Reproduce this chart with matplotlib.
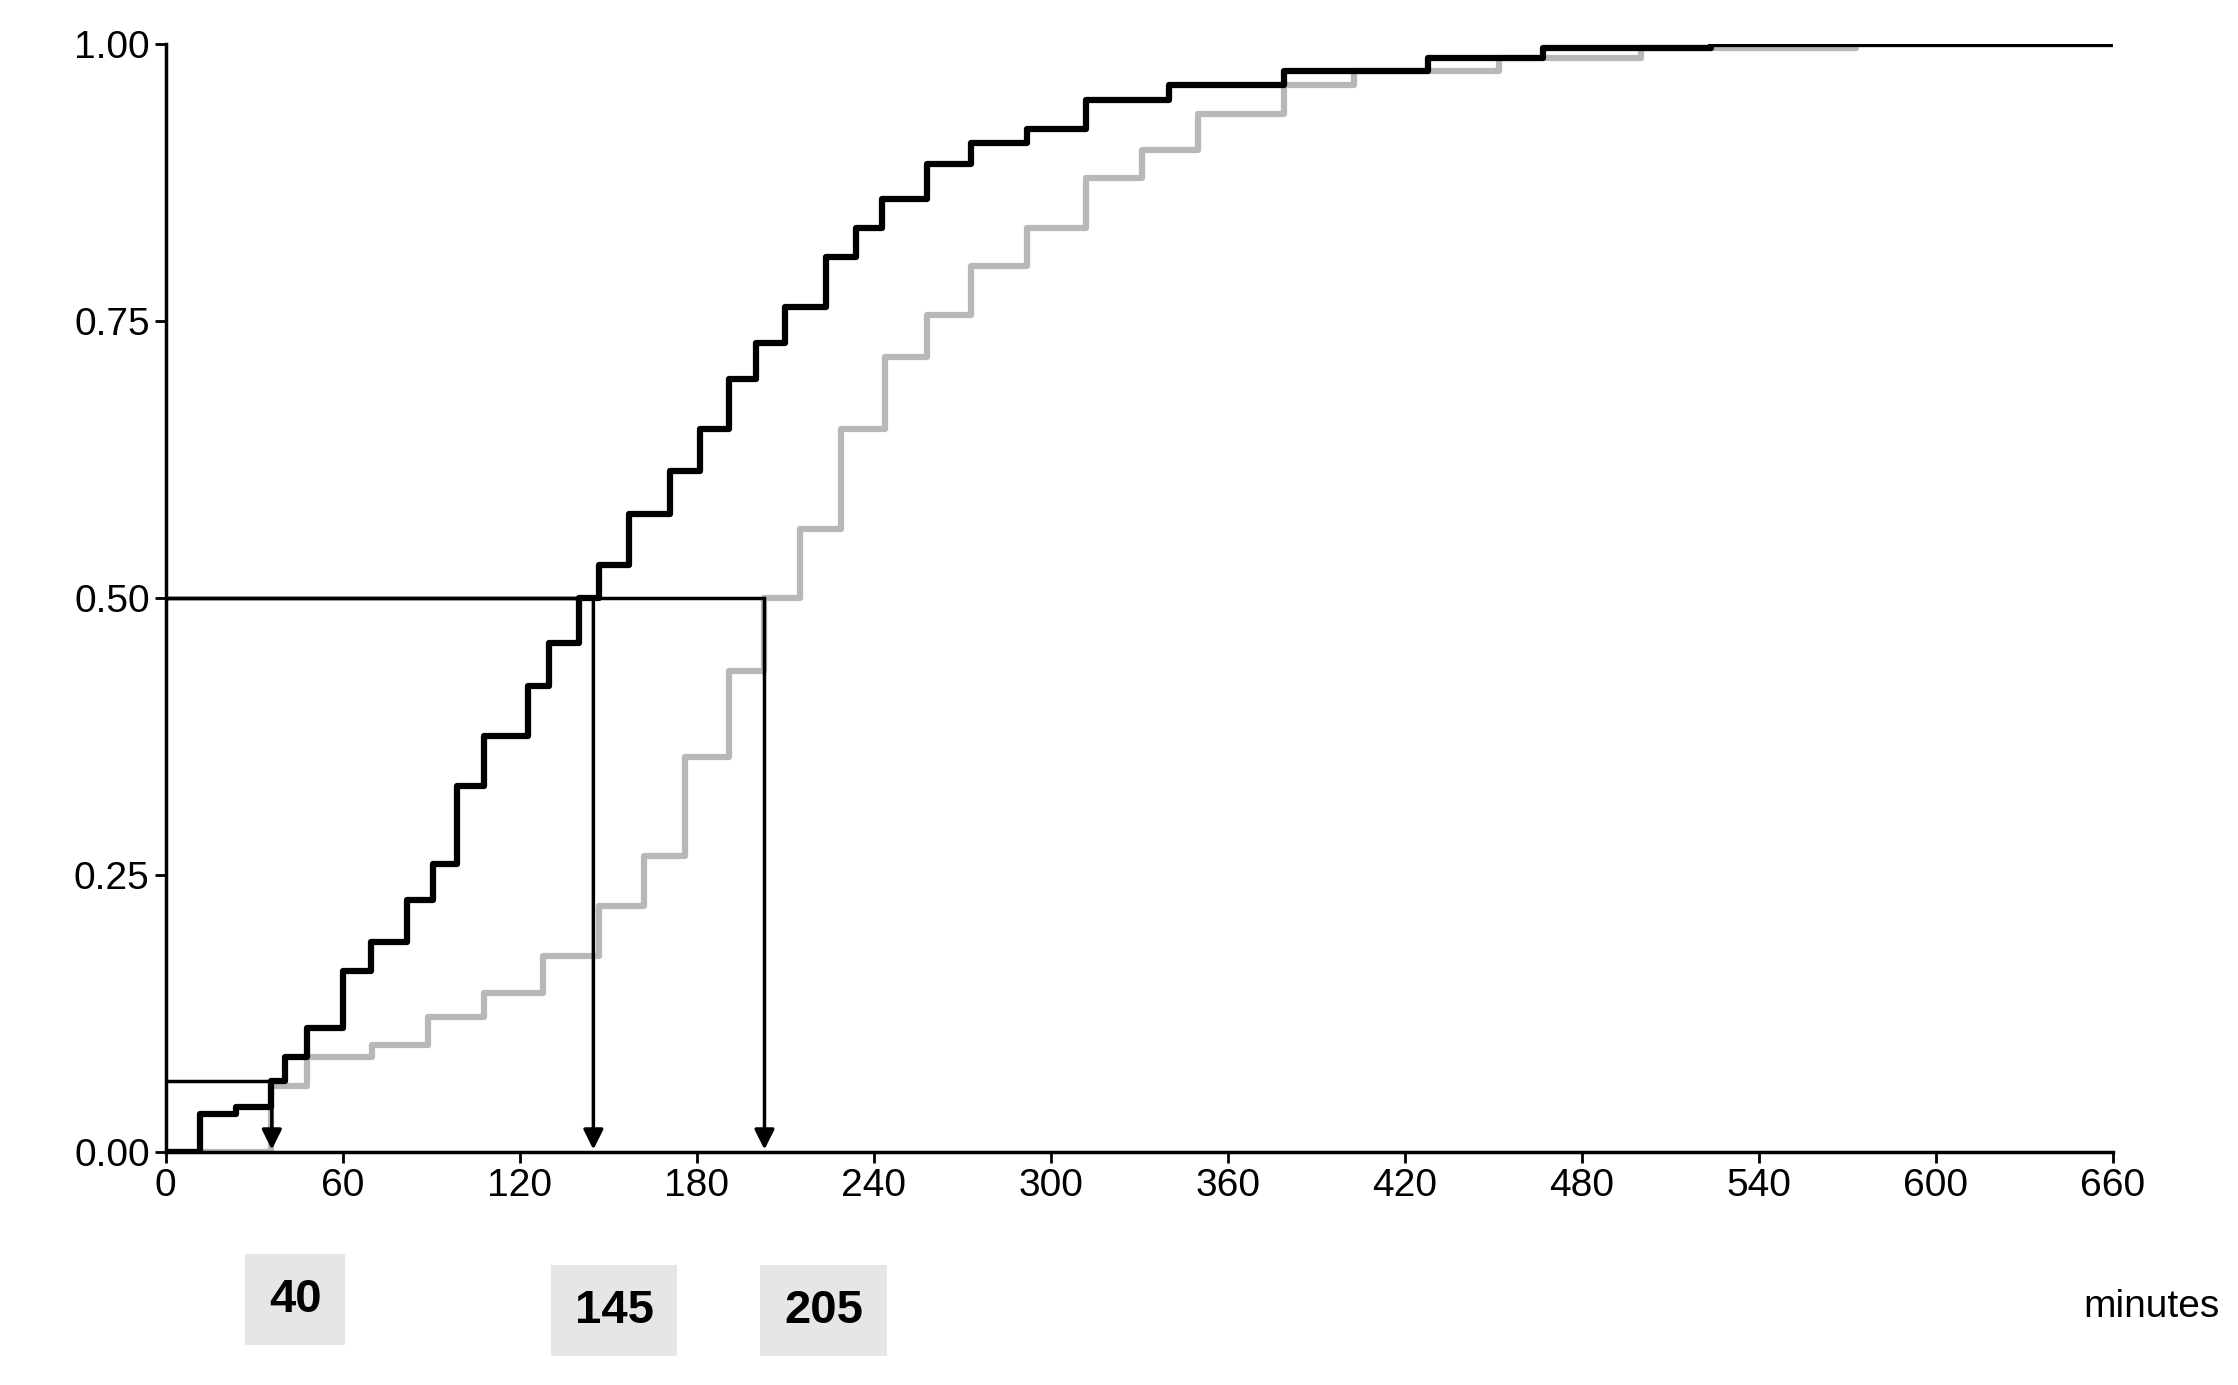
import matplotlib
matplotlib.use("Agg")
import matplotlib.pyplot as plt

plt.rcParams['font.family'] = ['Liberation Sans', 'DejaVu Sans']

black_x = [0, 11.6, 23.7, 35.8, 40.6, 47.9, 60, 69.7, 81.8, 90.7, 98.7, 108, 123, 130, 140, 147, 157, 171, 181, 191, 200, 210, 224, 234, 243, 258, 273, 292, 312, 340, 379, 428, 467, 524, 660]
black_y = [0, .035, .041, .064, .086, .112, .164, .19, .228, .26, .331, .376, .421, .46, .50, .53, .576, .615, .653, .698, .73, .763, .808, .834, .86, .892, .911, .924, .95, .963, .976, .988, .997, 1.0, 1.0]
gray_x = [0, 35.8, 48, 70, 89, 108, 128, 147, 162, 176, 191, 203, 215, 229, 244, 258, 273, 292, 312, 331, 350, 379, 403, 452, 500, 573, 660]
gray_y = [0, .06, .086, .097, .122, .144, .177, .222, .267, .357, .434, .5, .563, .653, .718, .756, .80, .834, .879, .905, .937, .963, .976, .988, .997, 1.0, 1.0]
arrows_x = [36, 145, 203]
arrows_y = [0.064, 0.5, 0.5]
labels = ["40", "145", "205"]
label_x = [44, 152, 223]
label_y = [-0.133, -0.143, -0.143]

fig = plt.figure(figsize=(22.38, 13.85), dpi=100)
ax = fig.add_axes([0.074, 0.168, 0.87, 0.80])
ax.plot(gray_x, gray_y, drawstyle='steps-post', color='#b8b8b8', lw=4.5)
ax.plot(black_x, black_y, drawstyle='steps-post', color='black', lw=4.5)
for x, y in zip(arrows_x, arrows_y):
    ax.plot([0, x], [y, y], color='black', lw=2.5)
    ax.annotate('', xy=(x, 0), xytext=(x, y),
                arrowprops=dict(arrowstyle='-|>', color='black', lw=2.5, mutation_scale=30))
for t, x, y in zip(labels, label_x, label_y):
    ax.text(x, y, t, transform=ax.get_xaxis_transform(), ha='center', va='center',
            fontsize=34, fontweight='bold', clip_on=False,
            bbox=dict(boxstyle='square,pad=0.5', fc='#e6e6e6', ec='none'))
ax.text(1.055, -0.14, 'minutes', transform=ax.transAxes, ha='right', va='center', fontsize=28)
ax.set_xlim(0, 660)
ax.set_ylim(0, 1)
ax.set_xticks(range(0, 661, 60))
ax.set_yticks([0, 0.25, 0.5, 0.75, 1.0])
ax.set_yticklabels(['0.00', '0.25', '0.50', '0.75', '1.00'])
ax.tick_params(labelsize=28, width=2, length=8, direction='out')
for s in ['top', 'right']:
    ax.spines[s].set_visible(False)
for s in ['left', 'bottom']:
    ax.spines[s].set_linewidth(2.5)
fig.savefig('out.png', dpi=100)
